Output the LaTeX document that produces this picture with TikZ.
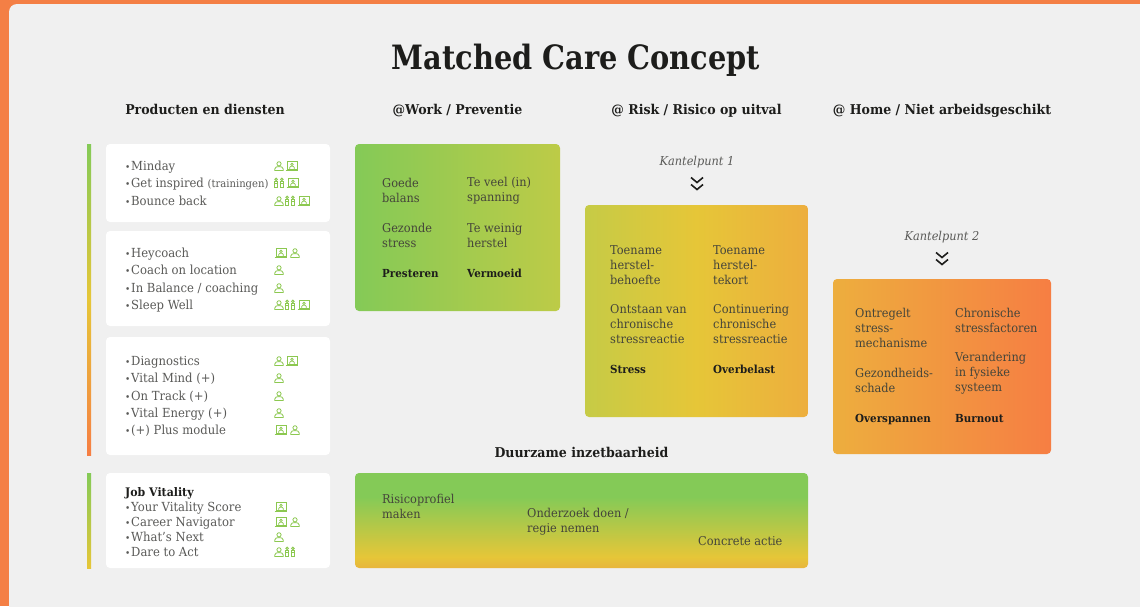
\documentclass[tikz,border=0pt]{standalone}
\usepackage{fontspec}
\usepackage{xcolor}
\setmainfont[FakeStretch=0.93]{DejaVu Serif}
\newfontfamily\titlefont[FakeStretch=0.86]{DejaVu Serif}
\definecolor{Edge}{HTML}{F47F45}
\definecolor{Panel}{HTML}{F0F0F0}
\definecolor{Ink}{HTML}{1D1D1B}
\definecolor{Body}{HTML}{5A5A58}
\definecolor{BoxInk}{HTML}{45453A}
\definecolor{Icon}{HTML}{8CC850}
\definecolor{Cgreen}{HTML}{84CA57}
\definecolor{Colive}{HTML}{BDCB47}
\definecolor{Crisk}{HTML}{C6CB46}
\definecolor{Cyellow}{HTML}{E6C638}
\definecolor{Camber}{HTML}{EDAE3E}
\definecolor{Corange}{HTML}{F67E43}
\definecolor{Cbottom}{HTML}{E8B53C}
\pgfdeclareverticalshading{duurzaam}{100bp}{color(0bp)=(Cbottom); color(25bp)=(Cbottom); color(30.8bp)=(Cyellow); color(62.5bp)=(Cgreen); color(100bp)=(Cgreen)}
\newcommand{\bul}{\makebox[6pt][l]{\fontsize{9.5}{15}\selectfont •}}
\tikzset{
  card/.style={fill=white,rounded corners=4},
  gradbox/.style={rounded corners=4},
  title/.style={anchor=base,font=\fontsize{33.5}{38}\titlefont\bfseries,text=Ink,inner sep=0},
  head/.style={anchor=base,font=\fontsize{13.5}{16}\selectfont\bfseries,text=Ink,inner sep=0},
  tip/.style={anchor=base,font=\fontsize{12.2}{15}\selectfont\itshape,text=Body,inner sep=0},
  item/.style={anchor=base west,font=\fontsize{12.5}{15}\selectfont,text=Body,inner sep=0},
  jobhead/.style={anchor=base west,font=\fontsize{11.8}{15}\selectfont\bfseries,text=Ink,inner sep=0},
  boxtext/.style={anchor=west,align=left,font=\fontsize{12.2}{15}\selectfont,text=BoxInk,inner sep=0},
  boxhead/.style={anchor=base west,font=\fontsize{11.1}{15}\selectfont\bfseries,text=Ink,inner sep=0},
  chevron/.style={draw=Ink,line width=1.6},
  personicon/.pic={
    \draw[Icon,line width=.8] (0,-2.2) circle (2.1);
    \draw[Icon,line width=.8] (-4.2,4.4) -- (-4.2,3) .. controls (-4.2,.8) and (-2,.6) .. (0,.6)
      .. controls (2,.6) and (4.2,.8) .. (4.2,3) -- (4.2,4.4) -- cycle;
  },
  groupicon/.pic={
    \foreach \dx in {-2.9,2.9}{
      \draw[Icon,line width=.9] (\dx,-3.6) circle (1.3);
      \draw[Icon,line width=.9] (\dx-1.8,.2) rectangle (\dx+1.8,-1.5);
      \draw[Icon,line width=.9] (\dx-1.2,.4) rectangle (\dx+1.2,4.2);
    }
  },
  screenicon/.pic={
    \draw[Icon,line width=.8] (-5,3.4) rectangle (5,-4.4);
    \draw[Icon,line width=.8] (-6.3,4.5) -- (6.3,4.5);
    \draw[Icon,line width=.7] (0,-1.6) circle (1.3);
    \draw[Icon,line width=.7] (-2.3,3) -- (-2.3,1.4) -- (-1,.2) -- (1,.2) -- (2.3,1.4) -- (2.3,3);
  },
}
\begin{document}
\begin{tikzpicture}[x=1pt,y=-1pt]
\useasboundingbox (0,0) rectangle (1140,606);
% background
\fill[Edge] (0,0) rectangle (1140,606);
\fill[Panel,rounded corners=8] (9,620) -- (9,4) -- (1160,4) -- (1160,620) -- cycle;
% title and column heads
\node[title] (maintitle) at (576,69) {Matched Care Concept};
\node[head] (headprod) at (205,114) {Producten en diensten};
\node[head] (headwork) at (457.5,114) {@Work / Preventie};
\node[head] (headrisk) at (696.5,114) {@ Risk / Risico op uitval};
\node[head] (headhome) at (942,114) {@ Home / Niet arbeidsgeschikt};
\node[head] (headduur) at (581.5,457) {Duurzame inzetbaarheid};
% left column
\shade[top color=Cgreen,bottom color=Corange,middle color=Cyellow] (87,144) rectangle (91,455);
\shade[top color=Cgreen,bottom color=Cyellow] (87,473) rectangle (91,568);
\fill[card] (106,144) rectangle (330,222);
\fill[card] (106,231) rectangle (330,326);
\fill[card] (106,337) rectangle (330,455);
\fill[card] (106,473) rectangle (330,568);
% first card
\node[item] (minday) at (125,170) {\bul Minday};
\node[item] (inspired) at (125,187.5) {\bul Get inspired {\fontsize{10.8}{15}\selectfont (trainingen)}};
\node[item] (bounce) at (125,205) {\bul Bounce back};
\pic (mindaya) at (279,166) {personicon};
\pic (mindayb) at (292,166) {screenicon};
\pic (inspireda) at (279,183) {groupicon};
\pic (inspiredb) at (293,183) {screenicon};
\pic (bouncea) at (279,201) {personicon};
\pic (bounceb) at (290,201) {groupicon};
\pic (bouncec) at (304,201) {screenicon};
% second card
\node[item] (heycoach) at (125,257) {\bul Heycoach};
\node[item] (location) at (125,274) {\bul Coach on location};
\node[item] (balance) at (125,292) {\bul In Balance / coaching};
\node[item] (sleep) at (125,309) {\bul Sleep Well};
\pic (heycoacha) at (281,253) {screenicon};
\pic (heycoachb) at (295,253) {personicon};
\pic (locationa) at (279,270) {personicon};
\pic (balancea) at (279,288) {personicon};
\pic (sleepa) at (279,305) {personicon};
\pic (sleepb) at (290,305) {groupicon};
\pic (sleepc) at (304,305) {screenicon};
% third card
\node[item] (diagnostics) at (125,365) {\bul Diagnostics};
\node[item] (vitalmind) at (125,382) {\bul Vital Mind (+)};
\node[item] (ontrack) at (125,400) {\bul On Track (+)};
\node[item] (vitalenergy) at (125,417) {\bul Vital Energy (+)};
\node[item] (plusmodule) at (125,434) {\bul (+) Plus module};
\pic (diagnosticsa) at (279,361) {personicon};
\pic (diagnosticsb) at (292,361) {screenicon};
\pic (vitalminda) at (279,378) {personicon};
\pic (ontracka) at (279,396) {personicon};
\pic (vitalenergya) at (279,413) {personicon};
\pic (plusmodulea) at (281,430) {screenicon};
\pic (plusmoduleb) at (295,430) {personicon};
% job vitality card
\node[jobhead] (jobvitality) at (125,496) {Job Vitality};
\node[item] (score) at (125,511) {\bul Your Vitality Score};
\node[item] (career) at (125,526) {\bul Career Navigator};
\node[item] (whatsnext) at (125,541) {\bul What’s Next};
\node[item] (dareact) at (125,556) {\bul Dare to Act};
\pic (scorea) at (281,507) {screenicon};
\pic (careera) at (281,522) {screenicon};
\pic (careerb) at (295,522) {personicon};
\pic (whatsnexta) at (279,537) {personicon};
\pic (dareacta) at (279,552) {personicon};
\pic (dareactb) at (290,552) {groupicon};
% work box
\shade[gradbox,left color=Cgreen,right color=Colive] (355,144) rectangle (560,311);
\node[boxtext] (balans) at (382,190.5) {Goede\\balans};
\node[boxtext] (gezond) at (382,235.5) {Gezonde\\stress};
\node[boxhead] (presteren) at (382,277) {Presteren};
\node[boxtext] (spanning) at (467,190.5) {Te veel (in)\\spanning};
\node[boxtext] (weinig) at (467,235.5) {Te weinig\\herstel};
\node[boxhead] (vermoeid) at (467,277) {Vermoeid};
% risk box
\node[tip] (kantela) at (697,165) {Kantelpunt 1};
\draw[chevron] (691,177.5) -- (697,182.5) -- (703,177.5);
\draw[chevron] (691,184.5) -- (697,189.5) -- (703,184.5);
\shade[gradbox,left color=Crisk,right color=Camber,middle color=Cyellow] (585,205) rectangle (808,417);
\node[boxtext] (behoefte) at (610,265) {Toename\\herstel-\\behoefte};
\node[boxtext] (ontstaan) at (610,324) {Ontstaan van\\chronische\\stressreactie};
\node[boxhead] (stress) at (610,373) {Stress};
\node[boxtext] (tekort) at (713,265) {Toename\\herstel-\\tekort};
\node[boxtext] (continu) at (713,324) {Continuering\\chronische\\stressreactie};
\node[boxhead] (overbelast) at (713,373) {Overbelast};
% home box
\node[tip] (kantelb) at (942,240) {Kantelpunt 2};
\draw[chevron] (936,252.5) -- (942,257.5) -- (948,252.5);
\draw[chevron] (936,259.5) -- (942,264.5) -- (948,259.5);
\shade[gradbox,left color=Camber,right color=Corange] (833,279) rectangle (1051,454);
\node[boxtext] (ontregelt) at (855,328) {Ontregelt\\stress-\\mechanisme};
\node[boxtext] (schade) at (855,380.5) {Gezondheids-\\schade};
\node[boxhead] (overspannen) at (855,422) {Overspannen};
\node[boxtext] (chronisch) at (955,320.5) {Chronische\\stressfactoren};
\node[boxtext] (verandering) at (955,373.5) {Verandering\\in fysieke\\systeem};
\node[boxhead] (burnout) at (955,422) {Burnout};
% bottom box
\shade[gradbox,shading=duurzaam] (355,473) rectangle (808,568);
\node[boxtext] (risicoprofiel) at (382,506.5) {Risicoprofiel\\maken};
\node[boxtext] (onderzoek) at (527,521.5) {Onderzoek doen /\\regie nemen};
\node[boxtext] (actie) at (698,541) {Concrete actie};
\end{tikzpicture}
\end{document}
